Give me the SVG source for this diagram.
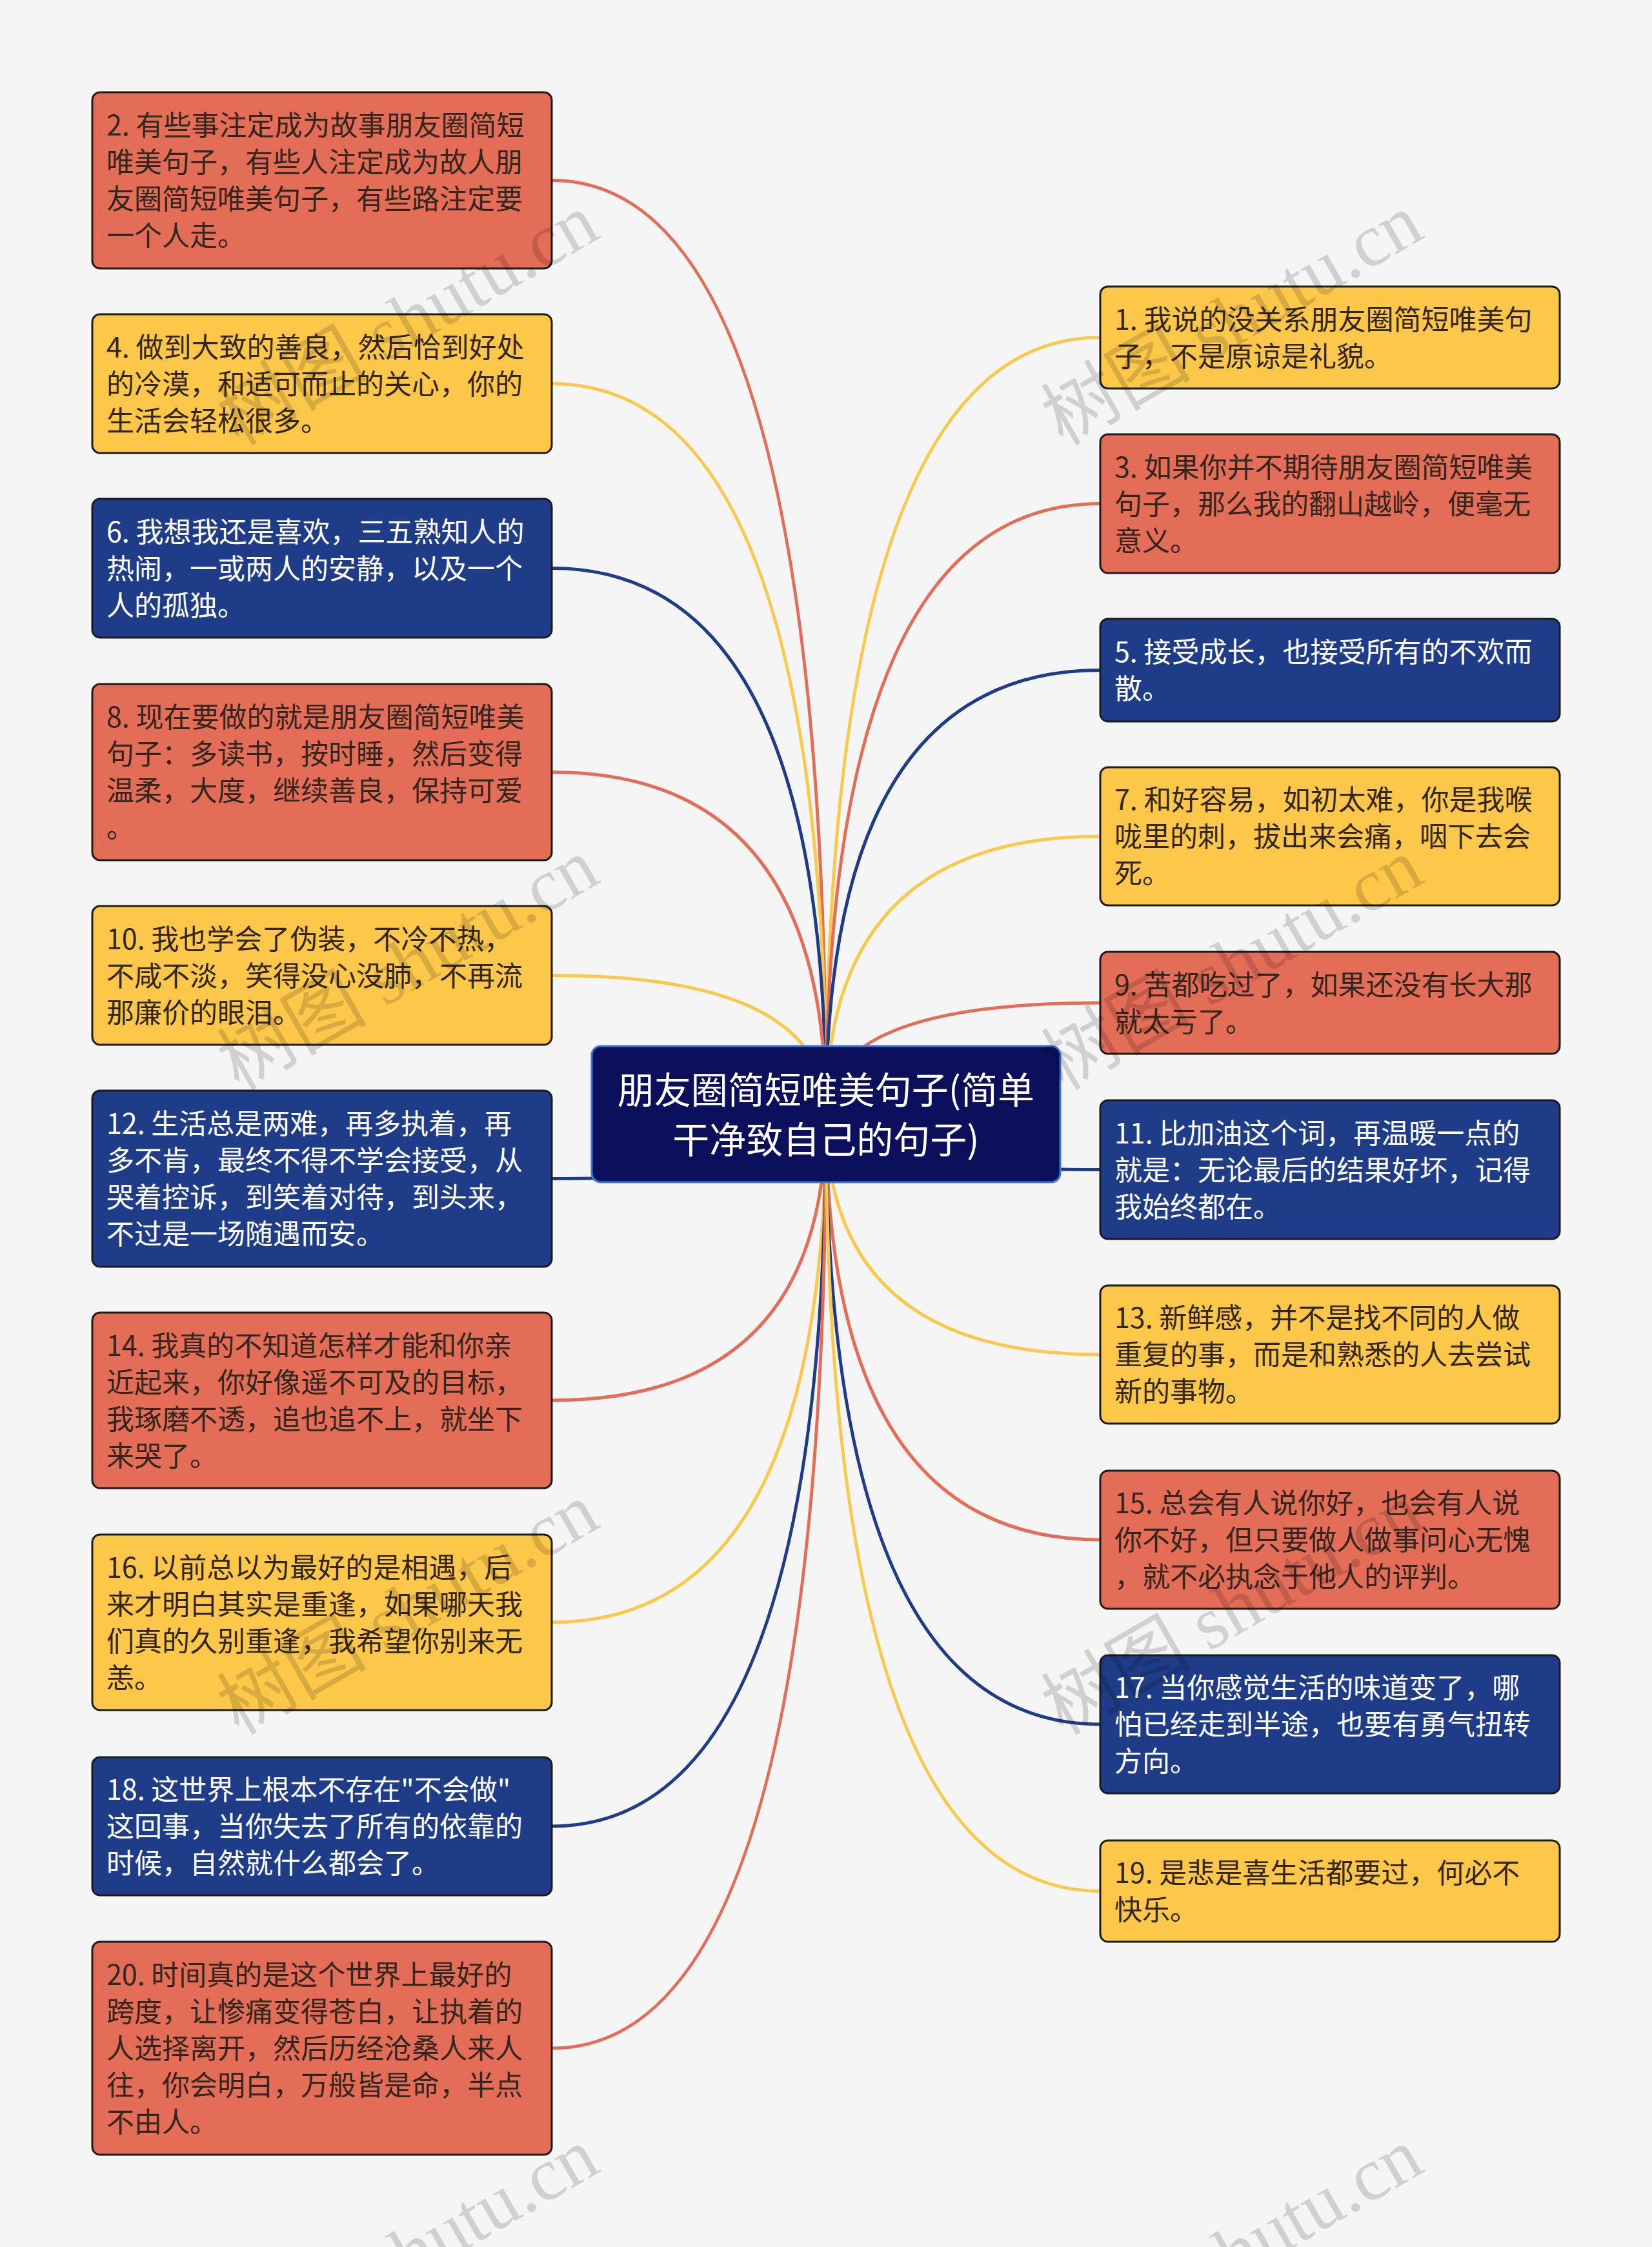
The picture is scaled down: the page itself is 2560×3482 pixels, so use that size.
<svg xmlns="http://www.w3.org/2000/svg" width="2560" height="3482" viewBox="0 0 2560 3482">
<style>
.bg{fill:#f5f5f5}
.n rect{stroke:#1c1c1c;stroke-width:3}
.red rect{fill:#e46d57}
.yel rect{fill:#fdc84a}
.blu rect{fill:#1f3c88}
.n text{font-family:"Noto Sans CJK SC","Noto Sans",sans-serif;font-size:43px}
.red text,.yel text{fill:#33261f}
.blu text{fill:#ffffff}
.c{fill:none;stroke-width:5}
.cr{stroke:#e46d57}
.cy{stroke:#f9c94c}
.cb{stroke:#1f3c88}
.wm{font-family:"Liberation Serif","Noto Sans CJK SC",serif;font-size:116px;fill:#000;fill-opacity:0.15}
</style>
<rect class="bg" x="0" y="0" width="2560" height="3482"/>
<g id="connectors">
<path class="c cr" d="M855 279.5 Q1280 279.5 1280 1726"/>
<path class="c cy" d="M855 594.5 Q1280 594.5 1280 1726"/>
<path class="c cb" d="M855 880.5 Q1280 880.5 1280 1726"/>
<path class="c cr" d="M855 1196.5 Q1280 1196.5 1280 1726"/>
<path class="c cy" d="M855 1511.5 Q1280 1511.5 1280 1726"/>
<path class="c cb" d="M855 1826.5 Q1280 1826.5 1280 1726"/>
<path class="c cr" d="M855 2170 Q1280 2170 1280 1726"/>
<path class="c cy" d="M855 2514 Q1280 2514 1280 1726"/>
<path class="c cb" d="M855 2830 Q1280 2830 1280 1726"/>
<path class="c cr" d="M855 3174 Q1280 3174 1280 1726"/>
<path class="c cy" d="M1705 523 Q1280 523 1280 1726"/>
<path class="c cr" d="M1705 780.5 Q1280 780.5 1280 1726"/>
<path class="c cb" d="M1705 1038.5 Q1280 1038.5 1280 1726"/>
<path class="c cy" d="M1705 1296 Q1280 1296 1280 1726"/>
<path class="c cr" d="M1705 1554 Q1280 1554 1280 1726"/>
<path class="c cb" d="M1705 1812.5 Q1280 1812.5 1280 1726"/>
<path class="c cy" d="M1705 2099 Q1280 2099 1280 1726"/>
<path class="c cr" d="M1705 2386 Q1280 2386 1280 1726"/>
<path class="c cb" d="M1705 2672 Q1280 2672 1280 1726"/>
<path class="c cy" d="M1705 2930.5 Q1280 2930.5 1280 1726"/>
</g>
<g id="node2" class="n red"><rect x="143" y="143" width="712" height="273" rx="12"/><text><tspan x="165" y="210">2. 有些事注定成为故事朋友圈简短</tspan><tspan x="165" y="267">唯美句子，有些人注定成为故人朋</tspan><tspan x="165" y="324">友圈简短唯美句子，有些路注定要</tspan><tspan x="165" y="381">一个人走。</tspan></text></g>
<g id="node4" class="n yel"><rect x="143" y="487" width="712" height="215" rx="12"/><text><tspan x="165" y="553.5">4. 做到大致的善良，然后恰到好处</tspan><tspan x="165" y="610.5">的冷漠，和适可而止的关心，你的</tspan><tspan x="165" y="667.5">生活会轻松很多。</tspan></text></g>
<g id="node6" class="n blu"><rect x="143" y="773" width="712" height="215" rx="12"/><text><tspan x="165" y="839.5">6. 我想我还是喜欢，三五熟知人的</tspan><tspan x="165" y="896.5">热闹，一或两人的安静，以及一个</tspan><tspan x="165" y="953.5">人的孤独。</tspan></text></g>
<g id="node8" class="n red"><rect x="143" y="1060" width="712" height="273" rx="12"/><text><tspan x="165" y="1127">8. 现在要做的就是朋友圈简短唯美</tspan><tspan x="165" y="1184">句子：多读书，按时睡，然后变得</tspan><tspan x="165" y="1241">温柔，大度，继续善良，保持可爱</tspan><tspan x="165" y="1298">。</tspan></text></g>
<g id="node10" class="n yel"><rect x="143" y="1404" width="712" height="215" rx="12"/><text><tspan x="165" y="1470.5">10. 我也学会了伪装，不冷不热，</tspan><tspan x="165" y="1527.5">不咸不淡，笑得没心没肺，不再流</tspan><tspan x="165" y="1584.5">那廉价的眼泪。</tspan></text></g>
<g id="node12" class="n blu"><rect x="143" y="1690" width="712" height="273" rx="12"/><text><tspan x="165" y="1757">12. 生活总是两难，再多执着，再</tspan><tspan x="165" y="1814">多不肯，最终不得不学会接受，从</tspan><tspan x="165" y="1871">哭着控诉，到笑着对待，到头来，</tspan><tspan x="165" y="1928">不过是一场随遇而安。</tspan></text></g>
<g id="node14" class="n red"><rect x="143" y="2034" width="712" height="272" rx="12"/><text><tspan x="165" y="2100.5">14. 我真的不知道怎样才能和你亲</tspan><tspan x="165" y="2157.5">近起来，你好像遥不可及的目标，</tspan><tspan x="165" y="2214.5">我琢磨不透，追也追不上，就坐下</tspan><tspan x="165" y="2271.5">来哭了。</tspan></text></g>
<g id="node16" class="n yel"><rect x="143" y="2378" width="712" height="272" rx="12"/><text><tspan x="165" y="2444.5">16. 以前总以为最好的是相遇，后</tspan><tspan x="165" y="2501.5">来才明白其实是重逢，如果哪天我</tspan><tspan x="165" y="2558.5">们真的久别重逢，我希望你别来无</tspan><tspan x="165" y="2615.5">恙。</tspan></text></g>
<g id="node18" class="n blu"><rect x="143" y="2723" width="712" height="214" rx="12"/><text><tspan x="165" y="2789">18. 这世界上根本不存在"不会做"</tspan><tspan x="165" y="2846">这回事，当你失去了所有的依靠的</tspan><tspan x="165" y="2903">时候，自然就什么都会了。</tspan></text></g>
<g id="node20" class="n red"><rect x="143" y="3009" width="712" height="330" rx="12"/><text><tspan x="165" y="3076">20. 时间真的是这个世界上最好的</tspan><tspan x="165" y="3133">跨度，让惨痛变得苍白，让执着的</tspan><tspan x="165" y="3190">人选择离开，然后历经沧桑人来人</tspan><tspan x="165" y="3247">往，你会明白，万般皆是命，半点</tspan><tspan x="165" y="3304">不由人。</tspan></text></g>
<g id="node1" class="n yel"><rect x="1705" y="444" width="712" height="158" rx="12"/><text><tspan x="1727" y="510.5">1. 我说的没关系朋友圈简短唯美句</tspan><tspan x="1727" y="567.5">子，不是原谅是礼貌。</tspan></text></g>
<g id="node3" class="n red"><rect x="1705" y="673" width="712" height="215" rx="12"/><text><tspan x="1727" y="739.5">3. 如果你并不期待朋友圈简短唯美</tspan><tspan x="1727" y="796.5">句子，那么我的翻山越岭，便毫无</tspan><tspan x="1727" y="853.5">意义。</tspan></text></g>
<g id="node5" class="n blu"><rect x="1705" y="959" width="712" height="159" rx="12"/><text><tspan x="1727" y="1026">5. 接受成长，也接受所有的不欢而</tspan><tspan x="1727" y="1083">散。</tspan></text></g>
<g id="node7" class="n yel"><rect x="1705" y="1189" width="712" height="214" rx="12"/><text><tspan x="1727" y="1255">7. 和好容易，如初太难，你是我喉</tspan><tspan x="1727" y="1312">咙里的刺，拔出来会痛，咽下去会</tspan><tspan x="1727" y="1369">死。</tspan></text></g>
<g id="node9" class="n red"><rect x="1705" y="1475" width="712" height="158" rx="12"/><text><tspan x="1727" y="1541.5">9. 苦都吃过了，如果还没有长大那</tspan><tspan x="1727" y="1598.5">就太亏了。</tspan></text></g>
<g id="node11" class="n blu"><rect x="1705" y="1705" width="712" height="215" rx="12"/><text><tspan x="1727" y="1771.5">11. 比加油这个词，再温暖一点的</tspan><tspan x="1727" y="1828.5">就是：无论最后的结果好坏，记得</tspan><tspan x="1727" y="1885.5">我始终都在。</tspan></text></g>
<g id="node13" class="n yel"><rect x="1705" y="1992" width="712" height="214" rx="12"/><text><tspan x="1727" y="2058">13. 新鲜感，并不是找不同的人做</tspan><tspan x="1727" y="2115">重复的事，而是和熟悉的人去尝试</tspan><tspan x="1727" y="2172">新的事物。</tspan></text></g>
<g id="node15" class="n red"><rect x="1705" y="2279" width="712" height="214" rx="12"/><text><tspan x="1727" y="2345">15. 总会有人说你好，也会有人说</tspan><tspan x="1727" y="2402">你不好，但只要做人做事问心无愧</tspan><tspan x="1727" y="2459">，就不必执念于他人的评判。</tspan></text></g>
<g id="node17" class="n blu"><rect x="1705" y="2565" width="712" height="214" rx="12"/><text><tspan x="1727" y="2631">17. 当你感觉生活的味道变了，哪</tspan><tspan x="1727" y="2688">怕已经走到半途，也要有勇气扭转</tspan><tspan x="1727" y="2745">方向。</tspan></text></g>
<g id="node19" class="n yel"><rect x="1705" y="2852" width="712" height="157" rx="12"/><text><tspan x="1727" y="2918">19. 是悲是喜生活都要过，何必不</tspan><tspan x="1727" y="2975">快乐。</tspan></text></g>
<g id="center"><rect x="917" y="1621" width="726" height="211" rx="14" fill="#0b0f5c" stroke="#3a78d6" stroke-width="3"/><text font-family="Noto Sans CJK SC,Noto Sans,sans-serif" font-size="57" fill="#ffffff" text-anchor="middle"><tspan x="1280" y="1710">朋友圈简短唯美句子(简单</tspan><tspan x="1280" y="1787">干净致自己的句子)</tspan></text></g>
<g id="watermarks">
<text class="wm" transform="translate(370 692) rotate(-30)">树图 shutu.cn</text>
<text class="wm" transform="translate(1647 692) rotate(-30)">树图 shutu.cn</text>
<text class="wm" transform="translate(370 1691) rotate(-30)">树图 shutu.cn</text>
<text class="wm" transform="translate(1647 1691) rotate(-30)">树图 shutu.cn</text>
<text class="wm" transform="translate(370 2690) rotate(-30)">树图 shutu.cn</text>
<text class="wm" transform="translate(1647 2690) rotate(-30)">树图 shutu.cn</text>
<text class="wm" transform="translate(370 3689) rotate(-30)">树图 shutu.cn</text>
<text class="wm" transform="translate(1647 3689) rotate(-30)">树图 shutu.cn</text>
</g>
</svg>
